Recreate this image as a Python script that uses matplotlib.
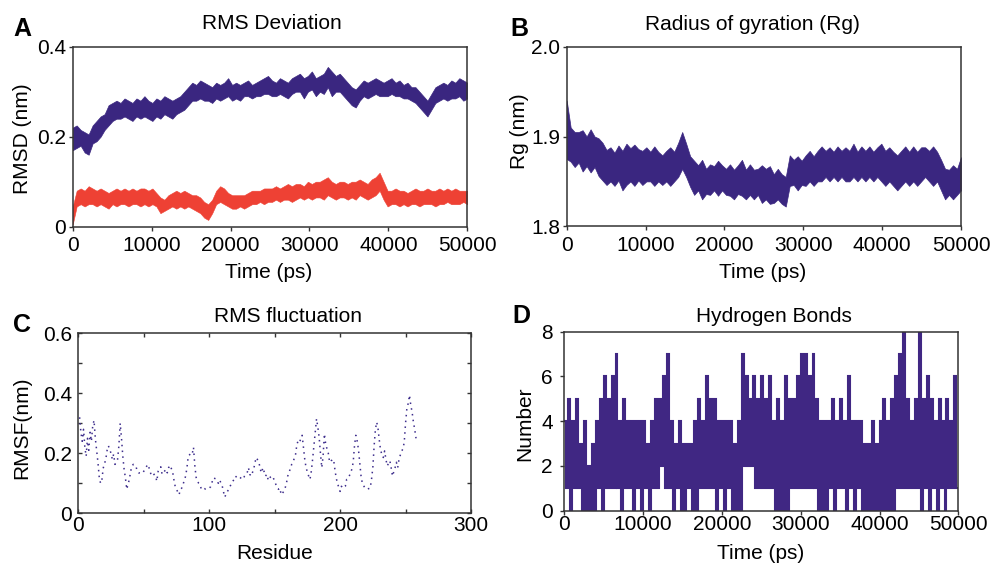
import numpy as np
import matplotlib
matplotlib.use("Agg")
import matplotlib.pyplot as plt
from matplotlib.ticker import FixedLocator, FixedFormatter, MultipleLocator

plt.rcParams['font.family'] = ['Liberation Sans', 'DejaVu Sans']

# ---------------- Data ----------------
# Panel A: RMSD envelopes (upper / lower) every 500 ps, 0..49500 ps
rmsd_prot_hi = [.22, .225, .215, .21, .205, .225, .235, .245, .25, .27,
                .275, .28, .275, .285, .28, .275, .285, .28, .29, .28,
                .275, .285, .28, .29, .285, .28, .285, .29, .30, .31,
                .32, .315, .325, .32, .315, .31, .32, .315, .32, .33,
                .315, .32, .315, .32, .325, .315, .32, .325, .33, .335,
                .325, .32, .33, .325, .32, .33, .335, .34, .33, .335,
                .345, .33, .335, .34, .355, .345, .335, .34, .33, .32,
                .31, .305, .315, .325, .32, .325, .33, .325, .32, .325,
                .33, .32, .325, .315, .32, .31, .31, .30, .29, .28,
                .295, .31, .315, .32, .315, .325, .32, .33, .325, .32]
rmsd_prot_lo = [.17, .175, .18, .165, .16, .185, .19, .20, .215, .225,
                .235, .24, .24, .245, .24, .235, .245, .24, .245, .24,
                .235, .245, .24, .25, .245, .24, .25, .255, .26, .27,
                .28, .28, .285, .28, .28, .275, .285, .28, .285, .29,
                .28, .285, .28, .29, .29, .285, .29, .29, .295, .295,
                .29, .29, .295, .29, .285, .295, .30, .30, .285, .30,
                .305, .29, .30, .295, .31, .29, .30, .30, .29, .28,
                .27, .265, .28, .29, .285, .29, .295, .29, .29, .29,
                .295, .29, .29, .285, .285, .28, .275, .265, .255, .245,
                .26, .275, .28, .285, .28, .285, .285, .29, .28, .285]
rmsd_lig_hi = [.045, .08, .085, .08, .09, .085, .08, .085, .08, .075,
               .08, .085, .08, .085, .08, .085, .08, .085, .085, .08,
               .085, .075, .065, .06, .07, .075, .08, .075, .08, .075,
               .07, .07, .065, .055, .05, .06, .08, .09, .085, .075,
               .07, .07, .07, .07, .075, .08, .08, .08, .085, .085,
               .085, .09, .085, .09, .095, .09, .095, .095, .09, .10,
               .095, .10, .10, .105, .11, .10, .095, .10, .10, .095,
               .10, .10, .105, .10, .095, .105, .11, .12, .10, .08,
               .08, .085, .08, .08, .075, .08, .085, .08, .08, .085,
               .08, .08, .085, .08, .085, .08, .085, .08, .08, .08]
rmsd_lig_lo = [.005, .045, .05, .045, .05, .05, .045, .05, .045, .04,
               .05, .045, .05, .05, .045, .05, .05, .045, .05, .045,
               .05, .045, .03, .035, .04, .045, .04, .045, .04, .045,
               .04, .035, .03, .02, .015, .03, .05, .055, .05, .045,
               .04, .04, .045, .04, .045, .05, .05, .055, .05, .055,
               .055, .06, .055, .06, .06, .055, .06, .065, .06, .065,
               .06, .065, .065, .06, .07, .065, .06, .065, .065, .06,
               .065, .06, .07, .065, .06, .065, .07, .08, .06, .045,
               .05, .05, .045, .05, .045, .05, .05, .045, .05, .05,
               .05, .045, .05, .05, .055, .05, .05, .05, .055, .05]

# Panel B: Rg envelopes every 500 ps
rg_hi = [1.94, 1.91, 1.905, 1.905, 1.907, 1.90, 1.908, 1.90, 1.898, 1.893,
         1.885, 1.888, 1.882, 1.89, 1.884, 1.892, 1.887, 1.891, 1.886, 1.884,
         1.888, 1.883, 1.889, 1.883, 1.879, 1.884, 1.888, 1.883, 1.893, 1.905,
         1.892, 1.878, 1.873, 1.868, 1.874, 1.864, 1.869, 1.867, 1.873, 1.868,
         1.864, 1.869, 1.863, 1.868, 1.874, 1.863, 1.869, 1.863, 1.864, 1.868,
         1.864, 1.867, 1.858, 1.864, 1.858, 1.855, 1.879, 1.874, 1.878, 1.873,
         1.879, 1.884, 1.878, 1.884, 1.889, 1.884, 1.888, 1.883, 1.889, 1.884,
         1.888, 1.884, 1.892, 1.883, 1.889, 1.884, 1.889, 1.883, 1.888, 1.892,
         1.884, 1.888, 1.883, 1.879, 1.884, 1.889, 1.883, 1.889, 1.883, 1.888,
         1.888, 1.884, 1.889, 1.883, 1.874, 1.864, 1.863, 1.868, 1.864, 1.877]
rg_lo = [1.875, 1.872, 1.866, 1.871, 1.861, 1.867, 1.86, 1.866, 1.856, 1.851,
         1.846, 1.85, 1.845, 1.851, 1.84, 1.846, 1.85, 1.845, 1.851, 1.846,
         1.85, 1.85, 1.845, 1.85, 1.846, 1.85, 1.845, 1.85, 1.855, 1.864,
         1.855, 1.844, 1.835, 1.84, 1.83, 1.836, 1.835, 1.84, 1.834, 1.84,
         1.835, 1.834, 1.83, 1.836, 1.834, 1.83, 1.835, 1.83, 1.835, 1.826,
         1.83, 1.825, 1.826, 1.83, 1.825, 1.822, 1.845, 1.846, 1.84, 1.846,
         1.845, 1.85, 1.845, 1.85, 1.85, 1.855, 1.85, 1.855, 1.85, 1.855,
         1.85, 1.85, 1.855, 1.85, 1.855, 1.85, 1.855, 1.85, 1.855, 1.85,
         1.845, 1.85, 1.845, 1.84, 1.845, 1.85, 1.845, 1.85, 1.845, 1.85,
         1.855, 1.85, 1.845, 1.85, 1.84, 1.83, 1.835, 1.83, 1.835, 1.84]

# Panel C: RMSF per residue
residues = [1, 2, 3, 4, 5, 6, 7, 8, 9, 10, 11, 12, 13, 14, 15, 16, 17, 18, 19, 21,
            22, 23, 25, 26, 27, 28, 30, 31, 32, 33, 34, 35, 36, 37, 39, 40, 41, 42,
            44, 45, 46, 49, 51, 53, 54, 55, 56, 58, 59, 60, 61, 63, 64, 65, 67, 68,
            69, 70, 72, 73, 74, 75, 77, 78, 79, 80, 82, 83, 84, 86, 87, 88, 89, 90,
            91, 92, 93, 94, 96, 97, 98, 100, 101, 102, 103, 105, 106, 107, 108, 110,
            111, 112, 113, 115, 116, 117, 119, 120, 121, 122, 124, 125, 126, 127,
            129, 130, 131, 132, 134, 135, 136, 138, 139, 140, 141, 143, 144, 145,
            146, 148, 149, 150, 152, 153, 154, 155, 157, 158, 159, 160, 162, 163,
            164, 166, 167, 168, 169, 171, 172, 173, 174, 176, 177, 178, 179, 180,
            181, 182, 183, 184, 185, 186, 187, 188, 189, 191, 192, 193, 195, 196,
            197, 198, 200, 201, 202, 204, 205, 206, 207, 209, 210, 211, 212, 213,
            214, 215, 216, 217, 219, 220, 221, 223, 224, 225, 226, 227, 228, 229,
            230, 231, 233, 234, 235, 236, 238, 239, 240, 242, 243, 244, 245, 247,
            248, 249, 250, 251, 252, 253, 254, 255, 256, 257, 258]
rmsf = [.32, .27, .24, .28, .22, .19, .25, .21, .27, .24, .29, .31, .25, .21, .17, .12,
        .10, .11, .15, .18, .21, .225, .20, .18, .197, .163, .18, .225, .30, .25,
        .19, .147, .118, .08, .113, .14, .158, .163, .158, .14, .135, .133, .147,
        .163, .152, .137, .124, .13, .124, .107, .14, .155, .13, .135, .147, .135,
        .152, .16, .14, .113, .09, .08, .062, .08, .084, .096, .124, .152, .19,
        .20, .197, .22, .16, .12, .107, .10, .096, .08, .084, .081, .084, .084,
        .088, .10, .118, .115, .107, .10, .111, .09, .07, .054, .067, .08, .09,
        .10, .113, .124, .12, .124, .118, .113, .115, .124, .135, .152, .13, .124,
        .147, .17, .186, .17, .147, .135, .152, .124, .13, .113, .124, .113, .118,
        .107, .084, .08, .084, .062, .073, .084, .10, .124, .149, .163, .17, .197,
        .23, .242, .237, .26, .22, .18, .152, .124, .113, .14, .18, .225, .27, .315,
        .287, .253, .20, .152, .19, .265, .23, .20, .17, .175, .18, .147, .118, .10,
        .073, .09, .084, .09, .113, .115, .124, .147, .17, .225, .26, .242, .214,
        .17, .124, .10, .084, .084, .081, .084, .113, .152, .225, .281, .304, .281,
        .242, .208, .186, .208, .18, .158, .175, .152, .124, .152, .17, .152, .18,
        .208, .214, .237, .30, .349, .366, .394, .36, .338, .304, .28, .25]

# Panel D: hydrogen bond count, two readings per 500 ps (250 ps each)
hbonds = [4, 1, 5, 0, 4, 1, 5, 1, 3, 0, 4, 0, 2, 0, 3, 0, 4, 1, 5, 0,
          6, 1, 5, 1, 6, 1, 7, 1, 4, 0, 5, 1, 4, 1, 4, 0, 4, 1, 4, 0,
          4, 1, 3, 0, 4, 1, 5, 1, 5, 2, 6, 1, 7, 1, 4, 0, 3, 1, 4, 0,
          3, 0, 3, 1, 3, 0, 4, 0, 5, 1, 4, 1, 6, 1, 5, 1, 5, 0, 4, 1,
          4, 0, 4, 1, 4, 0, 3, 0, 4, 0, 7, 2, 6, 2, 5, 2, 6, 1, 5, 1,
          6, 1, 5, 1, 6, 1, 4, 0, 5, 0, 4, 0, 6, 0, 5, 1, 5, 1, 6, 1,
          7, 1, 7, 1, 6, 1, 7, 1, 5, 0, 4, 0, 4, 0, 4, 1, 5, 0, 4, 1,
          5, 1, 4, 0, 6, 1, 4, 0, 4, 1, 4, 0, 3, 0, 3, 0, 4, 0, 3, 0,
          4, 0, 5, 0, 4, 0, 5, 0, 6, 1, 7, 1, 8, 1, 5, 1, 4, 1, 5, 1,
          8, 0, 5, 1, 6, 0, 5, 1, 4, 0, 5, 1, 4, 0, 5, 1, 4, 1, 6, 1]

time_ticks = [0, 10000, 20000, 30000, 40000, 50000]
time_labels = ['0', '10000', '20000', '30000', '40000', '50000']

# ---------------- Styling ----------------
PURPLE = '#3a2680'
PURPLE_D = '#402783'
PURPLE_C = '#3d2d8c'
RED = '#ee4134'
SPINE = '#333333'
FS = 15

W, H = 992, 565
fig = plt.figure(figsize=(W / 100, H / 100), dpi=100)


def px_axes(l, t, r, b):
    return fig.add_axes([l / W, 1 - b / H, (r - l) / W, (b - t) / H])


def style(ax, direction, xpad, ypad, length=2.6, top_right=False):
    for s in ax.spines.values():
        s.set_color(SPINE)
        s.set_linewidth(1.1)
    ax.tick_params(which='both', direction=direction, length=length, width=1.0,
                   color=SPINE, labelsize=FS, top=top_right, right=top_right)
    ax.tick_params(axis='x', which='both', pad=xpad)
    ax.tick_params(axis='y', which='both', pad=ypad)


def band(ax, hi, lo, color, lw):
    t = np.linspace(0, 50000, len(hi))
    ax.fill_between(t, lo, hi, color=color, lw=lw, edgecolor=color)


# Panel A
axA = px_axes(72.7, 46.7, 467.3, 226.7)
band(axA, rmsd_prot_hi, rmsd_prot_lo, PURPLE, 0.5)
band(axA, rmsd_lig_hi, rmsd_lig_lo, RED, 0.4)
axA.set_xlim(0, 50000)
axA.set_ylim(0, 0.4)
axA.xaxis.set_major_locator(FixedLocator(time_ticks))
axA.xaxis.set_major_formatter(FixedFormatter(time_labels))
axA.yaxis.set_major_locator(FixedLocator([0, 0.2, 0.4]))
axA.yaxis.set_major_formatter(FixedFormatter(['0', '0.2', '0.4']))
style(axA, 'out', 4.0, 2.0)

# Panel B
axB = px_axes(566.7, 46.7, 961.0, 226.3)
band(axB, rg_hi, rg_lo, PURPLE, 0.5)
axB.set_xlim(0, 50000)
axB.set_ylim(1.8, 2.0)
axB.xaxis.set_major_locator(FixedLocator(time_ticks))
axB.xaxis.set_major_formatter(FixedFormatter(time_labels))
axB.yaxis.set_major_locator(FixedLocator([1.8, 1.9, 2.0]))
axB.yaxis.set_major_formatter(FixedFormatter(['1.8', '1.9', '2.0']))
style(axB, 'out', 4.5, 2.0)

# Panel C
axC = px_axes(78.3, 333.3, 471.0, 513.3)
axC.plot(residues, rmsf, color=PURPLE_C, lw=1.1, linestyle=(0, (1.0, 2.8)),
         dash_capstyle='butt')
axC.set_xlim(0, 300)
axC.set_ylim(0, 0.6)
axC.xaxis.set_major_locator(FixedLocator([0, 100, 200, 300]))
axC.xaxis.set_major_formatter(FixedFormatter(['0', '100', '200', '300']))
axC.xaxis.set_minor_locator(MultipleLocator(50))
axC.yaxis.set_major_locator(FixedLocator([0, 0.2, 0.4, 0.6]))
axC.yaxis.set_major_formatter(FixedFormatter(['0', '0.2', '0.4', '0.6']))
axC.yaxis.set_minor_locator(MultipleLocator(0.1))
style(axC, 'in', 1.8, 4.6, length=3.0, top_right=True)

# Panel D
axD = px_axes(564.3, 331.7, 958.3, 510.7)
edges = np.linspace(0, 50000, len(hbonds) + 1)
axD.stairs(hbonds, edges, baseline=None, color=PURPLE_D, lw=1.5)
axD.set_xlim(0, 50000)
axD.set_ylim(0, 8)
axD.xaxis.set_major_locator(FixedLocator(time_ticks))
axD.xaxis.set_major_formatter(FixedFormatter(time_labels))
axD.yaxis.set_major_locator(FixedLocator([0, 2, 4, 6, 8]))
axD.yaxis.set_major_formatter(FixedFormatter(['0', '2', '4', '6', '8']))
style(axD, 'out', 0.5, 5.6)


def ftext(xp, yp, s, **kw):
    fig.text(xp / W, 1 - yp / H, s, **kw)


# Panel letters
for (xp, yp, s) in [(13, 36, 'A'), (510, 36, 'B'), (13, 331.7, 'C'), (512, 323, 'D')]:
    ftext(xp, yp, s, fontsize=18, fontweight='bold', ha='left', va='baseline')

# Titles
for (xp, yp, s) in [(271.7, 29, 'RMS Deviation'), (752.5, 30, 'Radius of gyration (Rg)'),
                    (287.5, 321.7, 'RMS fluctuation'), (774, 321.7, 'Hydrogen Bonds')]:
    ftext(xp, yp, s, fontsize=FS, ha='center', va='baseline')

# X labels
for (xp, yp, s) in [(268.7, 277.7, 'Time (ps)'), (762.7, 277.7, 'Time (ps)'),
                    (275, 559.3, 'Residue'), (761, 559.3, 'Time (ps)')]:
    ftext(xp, yp, s, fontsize=FS, ha='center', va='baseline')

# Y labels
for (xp, yp, s) in [(23, 138.3, 'RMSD (nm)'), (519.2, 131, 'Rg (nm)'),
                    (21.7, 427.5, 'RMSF(nm)'), (525, 423.3, 'Number')]:
    ftext(xp, yp, s, fontsize=FS, ha='center', va='center', rotation=90)

fig.savefig('out.png', dpi=100)
